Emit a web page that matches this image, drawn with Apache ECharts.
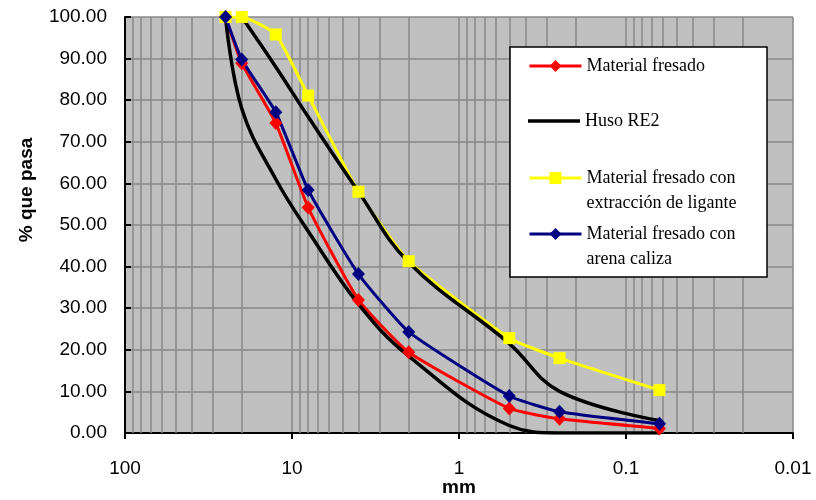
<!DOCTYPE html>
<html>
<head>
<meta charset="utf-8">
<script src="https://cdn.jsdelivr.net/npm/echarts@6/dist/echarts.min.js"></script>
<style>
html, body { margin: 0; padding: 0; background: #fff; }
#chart { width: 816px; height: 500px; }
</style>
</head>
<body>
<div id="chart"></div>
<script>
// tamices (mm)
var sieves = [25, 20, 12.5, 8, 4, 2, 0.5, 0.25, 0.063];
// % que pasa
var fresado    = [100, 88.9, 74.5, 54.2, 32.0, 19.4, 5.9, 3.4, 1.1];
var extraccion = [100, 100, 95.8, 81.1, 58.0, 41.3, 22.8, 18.0, 10.3];
var arena      = [100, 89.8, 77.1, 58.4, 38.2, 24.3, 8.9, 5.1, 2.2];
// huso RE2, limites
var husoInf = [100, 78, 61, 48.5, 31, 18.5, 1.8, 0, 0];
var husoSup = [null, 100, 88, 76, 58, 41, 21.5, 10, 3];

var names = ['Material fresado', 'Huso RE2', 'Material fresado con\nextracción de ligante', 'Material fresado con\narena caliza'];
var xDecades = [0.01, 0.1, 1, 10];

function pairs(ys) {
    return sieves.map(function (s, i) { return [s, ys[i]]; }).filter(function (p) { return p[1] != null; });
}

// lineas de la grilla secundaria (2..9 de cada decada)
var minorLines = [];
xDecades.forEach(function (d) {
    for (var m = 2; m <= 9; m++) minorLines.push({ xAxis: +(m * d).toPrecision(3) });
});

var gridColor = '#888888';

var legendBase = {
    orient: 'vertical',
    left: 528,
    padding: 0,
    itemWidth: 52,
    itemHeight: 15,
    selectedMode: false,
    lineStyle: { width: 3 },
    textStyle: { fontFamily: 'Liberation Serif', fontSize: 18, lineHeight: 25, color: '#000' }
};

function lineSerie(name, data, color, width, smooth, symbol, size) {
    return {
        name: name, type: 'line', data: data, z: 2,
        symbol: symbol, symbolSize: size, showSymbol: false,
        smooth: smooth,
        lineStyle: { color: color, width: width },
        itemStyle: { color: color }
    };
}
function markSerie(name, data, color, symbol, size) {
    return {
        name: name, type: 'scatter', data: data, z: 3,
        symbol: symbol, symbolSize: size,
        itemStyle: { color: color, opacity: 1 }
    };
}

var option = {
    animation: false,
    backgroundColor: '#fff',
    textStyle: { fontFamily: 'Liberation Sans' },
    grid: {
        left: 125, right: 23, top: 17, bottom: 67,
        outerBoundsMode: 'none', containLabel: false,
        show: true, backgroundColor: '#c0c0c0', borderWidth: 0
    },
    xAxis: {
        type: 'log', logBase: 10, min: 0.01, max: 100, inverse: true,
        name: 'mm', nameLocation: 'middle', nameGap: 45, nameMoveOverlap: false,
        nameTextStyle: { fontSize: 19, fontWeight: 'bold', color: '#000' },
        axisLine: { lineStyle: { color: '#000', width: 2 } },
        axisTick: { show: true, length: 6, lineStyle: { color: '#000', width: 2 } },
        axisLabel: {
            fontSize: 19, color: '#000', margin: 26,
            formatter: function (v) { return String(parseFloat(v.toPrecision(4))); }
        },
        splitLine: { show: true, lineStyle: { color: gridColor, width: 1.5 } }
    },
    yAxis: {
        type: 'value', min: 0, max: 100, interval: 10,
        axisLine: { show: true, lineStyle: { color: '#000', width: 2 } },
        axisTick: { show: true, inside: true, length: 6, lineStyle: { color: '#000', width: 2 } },
        axisLabel: {
            fontSize: 19, color: '#000', margin: 18,
            formatter: function (v) { return v.toFixed(2); }
        },
        splitLine: { show: true, lineStyle: { color: gridColor, width: 1.5 } }
    },
    legend: [
        Object.assign({}, legendBase, { top: 53.5, data: [names[0]] }),
        Object.assign({}, legendBase, { top: 108.5, itemHeight: 3.5, data: [{ name: names[1], icon: 'rect' }] }),
        Object.assign({}, legendBase, { top: 140.5, data: [names[2]], formatter: function (n) { return ' \n' + n; } }),
        Object.assign({}, legendBase, { top: 196.5, data: [names[3]], formatter: function (n) { return ' \n' + n; } })
    ],
    graphic: [
        {
            type: 'rect', z: 3,
            shape: { x: 510, y: 47, width: 257, height: 230 },
            style: { fill: '#fff', stroke: '#000', lineWidth: 1.5 }
        },
        {
            type: 'text', x: 27, y: 190, rotation: Math.PI / 2,
            style: {
                text: '% que pasa', fill: '#000',
                fontSize: 19, fontWeight: 'bold', fontFamily: 'Liberation Sans',
                align: 'center', verticalAlign: 'middle'
            }
        }
    ],
    series: [
        {
            type: 'line', data: [], z: 1, silent: true,
            markLine: {
                z: 1, silent: true, symbol: ['none', 'none'],
                label: { show: false },
                lineStyle: { color: gridColor, width: 1.5, type: 'solid' },
                emphasis: { disabled: true },
                data: minorLines
            }
        },
        lineSerie(names[0], pairs(fresado), '#ff0000', 3, 0.15, 'diamond', [13, 14]),
        lineSerie(names[1], pairs(husoInf), '#000000', 3.5, 0.4, 'none', 0),
        lineSerie(names[2], pairs(extraccion), '#ffff00', 3, 0.15, 'rect', 12),
        lineSerie(names[3], pairs(arena), '#000080', 3, 0.15, 'diamond', [13, 14]),
        lineSerie(names[1], pairs(husoSup), '#000000', 3.5, 0.4, 'none', 0),
        markSerie(names[0], pairs(fresado), '#ff0000', 'diamond', [13, 14]),
        markSerie(names[2], pairs(extraccion), '#ffff00', 'rect', 12),
        markSerie(names[3], pairs(arena), '#000080', 'diamond', [13, 14])
    ]
};

var chart = echarts.init(document.getElementById('chart'));
chart.setOption(option);
</script>
</body>
</html>
